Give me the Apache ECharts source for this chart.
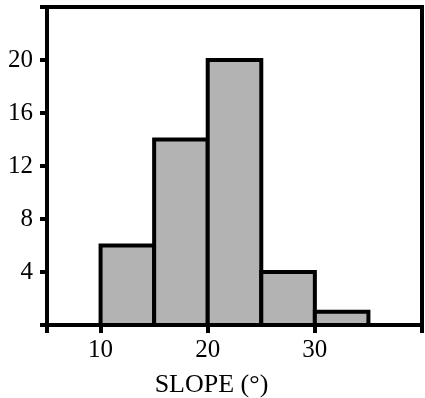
<!DOCTYPE html>
<html>
<head>
<meta charset="utf-8">
<script src="https://cdn.jsdelivr.net/npm/echarts@6/dist/echarts.min.js"></script>
<style>
  html, body { margin: 0; padding: 0; background: #fff; }
  #chart { width: 425px; height: 398px; }
</style>
</head>
<body>
<div id="chart"></div>
<script>
// slope bins (degrees) and counts
const binStarts = [10, 15, 20, 25, 30];
const binEnds = [15, 20, 25, 30, 35];
const counts = [6, 14, 20, 4, 1];
const xTickValues = [5, 10, 20, 30, 40];
const xLabelValues = [10, 20, 30];
const yLabelValues = [4, 8, 12, 16, 20];

const chart = echarts.init(document.getElementById('chart'));

const font = '"Liberation Serif", "DejaVu Serif", serif';

const option = {
  animation: false,
  grid: {
    left: 47,
    right: 3,
    top: 7,
    bottom: 73,
    outerBoundsMode: 'none',
    containLabel: false,
    show: true,
    borderColor: '#000',
    borderWidth: 4,
    backgroundColor: 'transparent',
  },
  xAxis: {
    type: 'value',
    min: 5,
    max: 40,
    name: 'SLOPE (°)',
    nameLocation: 'middle',
    nameGap: 47,
    nameTextStyle: {
      fontFamily: font,
      fontSize: 26,
      color: '#000',
      padding: [0, 46, 0, 0],
    },
    axisLine: { lineStyle: { color: '#000', width: 4 } },
    axisTick: {
      show: true,
      length: 8,
      customValues: xTickValues,
      lineStyle: { color: '#000', width: 4 },
    },
    axisLabel: {
      customValues: xLabelValues,
      margin: 13,
      fontFamily: font,
      fontSize: 25,
      color: '#000',
    },
    splitLine: { show: false },
  },
  yAxis: {
    type: 'value',
    min: 0,
    max: 24,
    interval: 4,
    axisLine: { show: true, lineStyle: { color: '#000', width: 4 } },
    axisTick: {
      show: true,
      length: 7,
      lineStyle: { color: '#000', width: 4 },
    },
    axisLabel: {
      margin: 14,
      fontFamily: font,
      fontSize: 25,
      color: '#000',
      formatter: (v) => (yLabelValues.includes(v) ? String(v) : ''),
    },
    splitLine: { show: false },
  },
  series: [
    {
      type: 'custom',
      data: binStarts.map((s, i) => [s, binEnds[i], counts[i]]),
      renderItem: function (params, api) {
        const p0 = api.coord([api.value(0), api.value(2)]);
        const p1 = api.coord([api.value(1), 0]);
        return {
          type: 'rect',
          shape: {
            x: p0[0],
            y: p0[1],
            width: p1[0] - p0[0],
            height: p1[1] - p0[1],
          },
          style: {
            fill: '#b3b3b3',
            stroke: '#000',
            lineWidth: 4,
          },
        };
      },
    },
  ],
};

chart.setOption(option);
</script>
</body>
</html>
